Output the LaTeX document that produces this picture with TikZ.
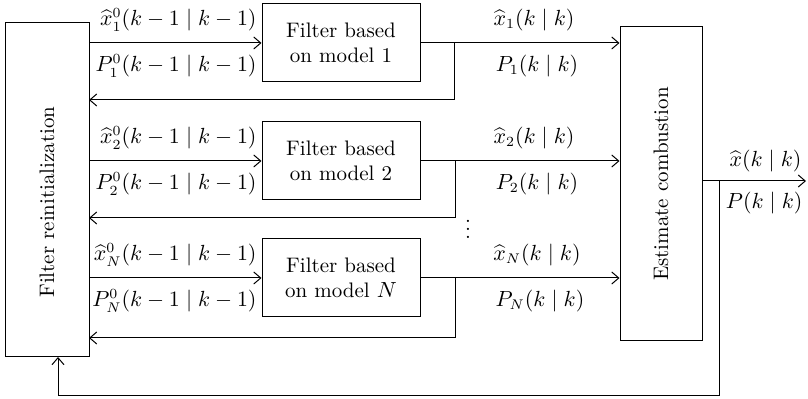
\documentclass[tikz,border=0pt]{standalone}
\usetikzlibrary{arrows.meta}
\begin{document}
\begin{tikzpicture}[x=0.5pt,y=-0.5pt,
  font=\fontsize{10.5}{12.5}\selectfont,
  line width=0.5pt,
  arr/.style={-{Straight Barb[length=3.5pt,width=6pt]}},
  filt/.style={draw, minimum width=79pt, minimum height=39pt, align=center, inner sep=0pt},
  lbl/.style={inner sep=0pt}]
\useasboundingbox (0,0) rectangle (808,399);
% boxes
\node[draw, minimum width=42pt, minimum height=167pt, inner sep=0pt] (R) at (47,190) {};
\node[rotate=90, lbl] (Rt) at (47,202) {Filter reinitialization};
\node[filt] (M1) at (341,43) {Filter based\\on model 1};
\node[filt] (M2) at (341,161) {Filter based\\on model 2};
\node[filt] (MN) at (341,278) {Filter based\\on model $N$};
\node[draw, minimum width=41pt, minimum height=157pt, inner sep=0pt] (E) at (661,184) {};
\node[rotate=90, lbl] (Et) at (661,184) {Estimate combustion};
% coordinates
\coordinate (b1) at (454,43);
\coordinate (b2) at (455,161);
\coordinate (bN) at (455,278);
\coordinate (f1) at (89,100);
\coordinate (f2) at (89,218);
\coordinate (fN) at (89,338);
\coordinate (o) at (719,181);
\coordinate (out) at (806,181);
\coordinate (l1) at (719,396);
\coordinate (l2) at (58,396);
\coordinate (l3) at (58,357);
% inputs
\draw[arr] (R.east |- M1.west) -- (M1.west);
\draw[arr] (R.east |- M2.west) -- (M2.west);
\draw[arr] (R.east |- MN.west) -- (MN.west);
% outputs
\draw[arr] (M1.east) -- (E.west |- M1.east);
\draw[arr] (M2.east) -- (E.west |- M2.east);
\draw[arr] (MN.east) -- (E.west |- MN.east);
% feedback branches
\draw[arr] (b1) |- (f1);
\draw[arr] (b2) |- (f2);
\draw[arr] (bN) |- (fN);
% final output
\draw[arr] (E.east |- o) -- (out);
\draw[arr] (o) -- (l1) -- (l2) -- (l3);
% dots
\node[lbl] (dots) at (468,223) {$\vdots$};
% labels
\node[lbl, anchor=east] (a1) at (257,20) {$\widehat{x}_1^0(k-1\mid k-1)$};
\node[lbl, anchor=east] (p1) at (257,66) {$P_1^0(k-1\mid k-1)$};
\node[lbl, anchor=east] (a2) at (257,138) {$\widehat{x}_2^0(k-1\mid k-1)$};
\node[lbl, anchor=east] (p2) at (257,184) {$P_2^0(k-1\mid k-1)$};
\node[lbl, anchor=east] (aN) at (257,255) {$\widehat{x}_N^0(k-1\mid k-1)$};
\node[lbl, anchor=east] (pN) at (257,301) {$P_N^0(k-1\mid k-1)$};
\node[lbl] (o1) at (534,20) {$\widehat{x}_1(k\mid k)$};
\node[lbl] (q1) at (537,66) {$P_1(k\mid k)$};
\node[lbl] (o2) at (534,138) {$\widehat{x}_2(k\mid k)$};
\node[lbl] (q2) at (537,184) {$P_2(k\mid k)$};
\node[lbl] (oN) at (537,255) {$\widehat{x}_N(k\mid k)$};
\node[lbl] (qN) at (540,301) {$P_N(k\mid k)$};
\node[lbl, anchor=east] (ox) at (802,161) {$\widehat{x}(k\mid k)$};
\node[lbl, anchor=east] (op) at (803,203) {$P(k\mid k)$};
\end{tikzpicture}
\end{document}
